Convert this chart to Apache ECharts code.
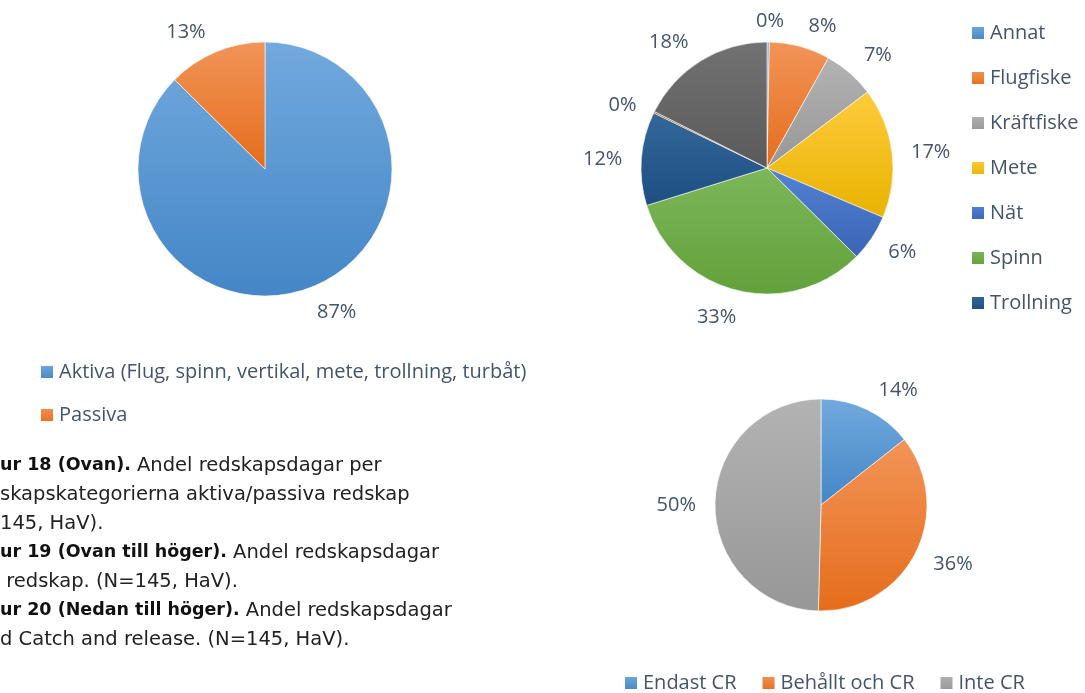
<!DOCTYPE html>
<html>
<head>
<meta charset="utf-8">
<script src="https://cdn.jsdelivr.net/npm/echarts@6/dist/echarts.min.js"></script>
<style>
  html, body { margin: 0; padding: 0; background: #fff; }
  #main { width: 1085px; height: 693px; }
</style>
</head>
<body>
<div id="main"></div>
<script>
var myChart = echarts.init(document.getElementById('main'));

// Figur 18: aktiva / passiva redskap
var kategoriNamn = ['Aktiva (Flug, spinn, vertikal, mete, trollning, turbåt)', 'Passiva'];
var kategoriAndel = [87.4, 12.6];

// Figur 19: per redskap (legend is cut after Trollning in the original)
var redskapNamn = ['Annat', 'Flugfiske', 'Kräftfiske', 'Mete', 'Nät', 'Spinn', 'Trollning', 'Turbåt', 'Vertikal'];
var redskapAndel = [0.3, 7.8, 6.6, 16.7, 6.0, 32.8, 12.0, 0.2, 17.6];
var redskapLegend = ['Annat', 'Flugfiske', 'Kräftfiske', 'Mete', 'Nät', 'Spinn', 'Trollning'];

// Figur 20: catch and release
var crNamn = ['Endast CR', 'Behållt och CR', 'Inte CR'];
var crAndel = [14.4, 36.0, 49.6];

var textColor = '#44546A';
var font = '"Open Sans", "Liberation Sans", sans-serif';

// light top / dark bottom like the office theme fills
var pal = {
    blue:    ['#72A9DE', '#4486C6'],
    orange:  ['#F29458', '#E56D1C'],
    gray:    ['#B3B3B3', '#979797'],
    yellow:  ['#FFCB3C', '#E8B300'],
    blue2:   ['#5382D4', '#3A64B5'],
    green:   ['#7CB75A', '#62A13A'],
    navy:    ['#33679A', '#1E4E82'],
    brown:   ['#A8582A', '#8E4210'],
    dgray:   ['#727272', '#5A5A5A']
};
var col1 = ['blue', 'orange'];
var col2 = ['blue', 'orange', 'gray', 'yellow', 'blue2', 'green', 'navy', 'brown', 'dgray'];
var col3 = ['blue', 'orange', 'gray'];

function grad(key) {
    var c = pal[key];
    return new echarts.graphic.LinearGradient(0, 0, 0, 1, [
        {offset: 0, color: c[0]},
        {offset: 1, color: c[1]}
    ]);
}

function makeData(names, values, cols) {
    return names.map(function (n, i) {
        return {
            name: n,
            value: values[i],
            itemStyle: {color: grad(cols[i])}
        };
    });
}

function clamp(t) { return Math.max(-1, Math.min(1, t)); }

// excel style "outside end": label box just outside the rim at the slice's mid angle
function outsideEnd(center, radius, values) {
    var total = values.reduce(function (a, b) { return a + b; }, 0);
    return function (p) {
        var before = 0;
        for (var i = 0; i < p.dataIndex; i++) before += values[i];
        var mid = (before + values[p.dataIndex] / 2) / total * Math.PI * 2;
        var ux = Math.sin(mid), uy = -Math.cos(mid);
        var d = radius + 14;
        var w = p.labelRect.width / 2 + 5, h = p.labelRect.height / 2 - 3;
        var dx = w * clamp(ux / 0.1);
        var dy;
        if (Math.abs(uy) > Math.abs(ux)) {
            dy = uy < 0 ? -h : h + 6;
            if (uy > 0) dx *= 0.7;
        } else {
            dy = h * uy + 2;
        }
        return {
            x: center[0] + ux * d + dx,
            y: center[1] + uy * d + dy,
            align: 'center',
            verticalAlign: 'middle'
        };
    };
}

function pieSeries(name, center, radius, names, values, cols) {
    return {
        name: name,
        type: 'pie',
        center: center,
        radius: radius,
        startAngle: 90,
        clockwise: true,
        avoidLabelOverlap: false,
        itemStyle: {borderColor: '#fff', borderWidth: 0.6},
        label: {
            show: true,
            position: 'outside',
            color: textColor,
            fontFamily: font,
            fontSize: 20,
            formatter: function (p) { return Math.round(p.percent) + '%'; }
        },
        labelLine: {show: false},
        labelLayout: outsideEnd(center, radius, values),
        emphasis: {scale: false},
        data: makeData(names, values, cols)
    };
}

var legendText = {color: textColor, fontFamily: font, fontSize: 20};
var capFont = '"DejaVu Sans", sans-serif';

option = {
    animation: false,
    legend: [
        {
            orient: 'vertical',
            left: 34, top: 357,
            itemWidth: 14, itemHeight: 14,
            itemGap: 23,
            icon: 'rect',
            textStyle: legendText,
            data: kategoriNamn
        },
        {
            orient: 'vertical',
            left: 965, top: 18,
            itemWidth: 14, itemHeight: 14,
            itemGap: 25,
            icon: 'rect',
            textStyle: legendText,
            data: redskapLegend
        },
        {
            orient: 'horizontal',
            left: 618, top: 668,
            itemWidth: 14, itemHeight: 14,
            itemGap: 24,
            icon: 'rect',
            textStyle: legendText,
            data: crNamn
        }
    ],
    graphic: [
        {
            type: 'text',
            left: 0, top: 451,
            style: {
                text: [
                    '{b|ur 18 (Ovan).}{r| Andel redskapsdagar per}',
                    '{r|skapskategorierna aktiva/passiva redskap}',
                    '{r|145, HaV).}',
                    '{b|ur 19 (Ovan till höger).}{r| Andel redskapsdagar}',
                    '{r| redskap. (N=145, HaV).}',
                    '{b|ur 20 (Nedan till höger).}{r| Andel redskapsdagar}',
                    '{r|d Catch and release. (N=145, HaV).}'
                ].join('\n'),
                fill: '#222',
                fontSize: 19.5,
                fontFamily: capFont,
                lineHeight: 29,
                rich: {
                    b: {fontWeight: 'bold', fontSize: 17.5, fontFamily: capFont, lineHeight: 29, fill: '#111'},
                    r: {fontWeight: 'normal', fontSize: 19.5, fontFamily: capFont, lineHeight: 29, fill: '#222'}
                }
            }
        }
    ],
    series: [
        pieSeries('Figur 18', [265, 169], 127, kategoriNamn, kategoriAndel, col1),
        pieSeries('Figur 19', [767, 168], 126, redskapNamn, redskapAndel, col2),
        pieSeries('Figur 20', [821, 505], 106, crNamn, crAndel, col3)
    ]
};

myChart.setOption(option);
</script>
</body>
</html>
